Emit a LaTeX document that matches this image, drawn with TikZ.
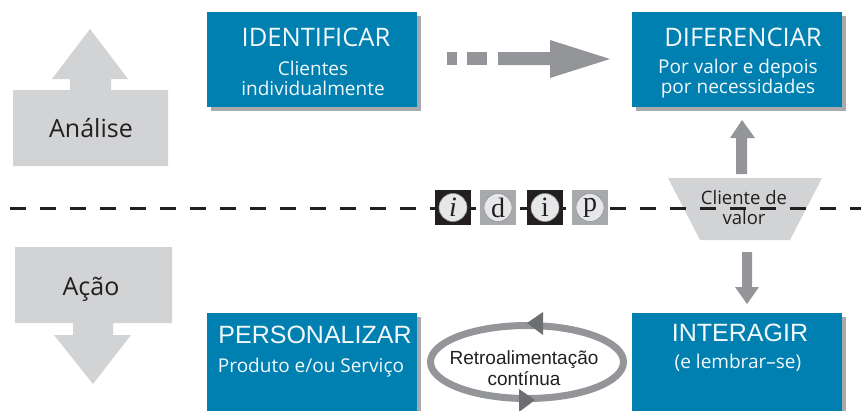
\documentclass[tikz,border=0pt]{standalone}
\usepackage{fontspec}
\setmainfont{Open Sans}
\newfontfamily\arialf{Liberation Sans}
\newfontfamily\seriff{Liberation Serif}
\usetikzlibrary{shadows}
\definecolor{boxblue}{HTML}{0080B0}
\definecolor{lgray}{HTML}{D1D3D4}
\definecolor{mgray}{HTML}{939598}
\definecolor{dgray}{HTML}{6D6E71}
\definecolor{shadowg}{HTML}{A7A9AC}
\definecolor{txtw}{HTML}{F2F8FB}
\definecolor{ink}{HTML}{231F20}
\definecolor{circg}{HTML}{E6E7E8}
\tikzset{
  bluebox/.style={fill=boxblue, minimum width=210pt, inner sep=0pt,
    drop shadow={shadow xshift=4pt, shadow yshift=-4pt, fill=shadowg, opacity=1}},
  titletxt/.style={text=txtw, inner sep=0pt, font=\fontsize{25.5}{27}\selectfont},
  arialtitle/.style={text=txtw, inner sep=0pt, font=\arialf\fontsize{25}{27}\selectfont},
  subtxt/.style={text=txtw, inner sep=0pt, align=center, font=\fontsize{19}{20}\selectfont},
  sidetxt/.style={text=ink, inner sep=0pt, font=\fontsize{25}{27}\selectfont},
  idbox/.style={minimum width=36pt, minimum height=35pt, inner sep=0pt},
  idcirc/.style={circle, fill=circg, draw=mgray, line width=0.6pt, minimum size=28pt, inner sep=0pt,
    text=ink, font=\seriff\fontsize{28}{28}\selectfont},
}
\begin{document}
\begin{tikzpicture}[x=1pt,y=-1pt]
\useasboundingbox (0,0) rectangle (861,410);
\clip (0,0) rectangle (861,410);

% side arrows
\fill[lgray] (13,166) -- (13,90) -- (70,90) -- (70,79) -- (52,79) -- (90,29) -- (128,79)
  -- (111,79) -- (111,90) -- (168,90) -- (168,166) -- cycle;
\node[sidetxt] (analise) at (91,128) {Análise};
\fill[lgray] (15,247) -- (172,247) -- (172,323) -- (113,323) -- (113,335) -- (131,335)
  -- (93,384) -- (54,335) -- (73,335) -- (73,323) -- (15,323) -- cycle;
\node[sidetxt] (acao) at (91,289) {Ação};

% blue boxes
\node[bluebox, minimum height=95pt] (ident) at (312,59.5) {};
\node[titletxt] (identT) at (316,37) {IDENTIFICAR};
\node[subtxt] (identS) at (313,78) {Clientes\\individualmente};

\node[bluebox, minimum height=95pt] (diff) at (737,59.5) {};
\node[titletxt] (diffT) at (743,37) {DIFERENCIAR};
\node[subtxt] (diffS) at (738,79) {Por valor e depois\\por necessidades};

\node[bluebox, minimum height=110pt] (pers) at (312,368) {};
\node[arialtitle] (persT) at (315,335) {PERSONALIZAR};
\node[subtxt] (persS) at (311,368) {Produto e/ou Serviço};

\node[bluebox, minimum height=110pt] (inter) at (737,368) {};
\node[arialtitle] (interT) at (740,333) {INTERAGIR};
\node[subtxt] (interS) at (738,363) {(e lembrar–se)};

% dashed block arrow ident -> diff
\fill[mgray] (447,52) rectangle (457,65);
\fill[mgray] (467,52) rectangle (487,65);
\fill[mgray] (498,52) -- (550,52) -- (550,40) -- (610,59) -- (550,78) -- (550,65) -- (498,65) -- cycle;

% trapezoid
\fill[lgray] (668,178) -- (822,178) -- (790,240) -- (700,240) -- cycle;
\node[inner sep=0pt, text=ink, align=center, font=\fontsize{18.5}{20}\selectfont] (cv) at (744,208) {Cliente de\\valor};

% up arrow to diff
\fill[mgray] (736,174) -- (736,138) -- (730,138) -- (742,120) -- (755,138) -- (747,138) -- (747,174) -- cycle;
% down arrow to inter
\fill[mgray] (742,252) -- (752,252) -- (752,287) -- (759,287) -- (747,304) -- (735,287) -- (742,287) -- cycle;

% dashed axis
\draw[ink, line width=3pt, dash pattern=on 16pt off 14pt] (10,208) -- (861,208);

% idip boxes
\node[idbox, fill=ink] (b1) at (453,207.5) {};
\node[idcirc] (c1) at (b1) {\itshape i};
\node[idbox, fill=shadowg] (b2) at (498,207.5) {};
\node[idcirc] (c2) at (b2) {d};
\node[idbox, fill=ink] (b3) at (545,207.5) {};
\node[idcirc] (c3) at (b3) {i};
\node[idbox, fill=shadowg] (b4) at (590,207.5) {};
\node[idcirc] (c4) at (b4) {p};

% feedback ellipse
\draw[mgray, line width=7pt] (527,362) ellipse [x radius=96.5, y radius=36.5];
\fill[dgray] (527,323) -- (543,312) -- (543,335) -- cycle;
\fill[dgray] (535,400) -- (519,389) -- (519,412) -- cycle;
\node[inner sep=0pt, align=center, text=ink, font=\arialf\fontsize{19}{20.5}\selectfont] (retro) at (524,368) {Retroalimentação\\contínua};
\end{tikzpicture}
\end{document}
